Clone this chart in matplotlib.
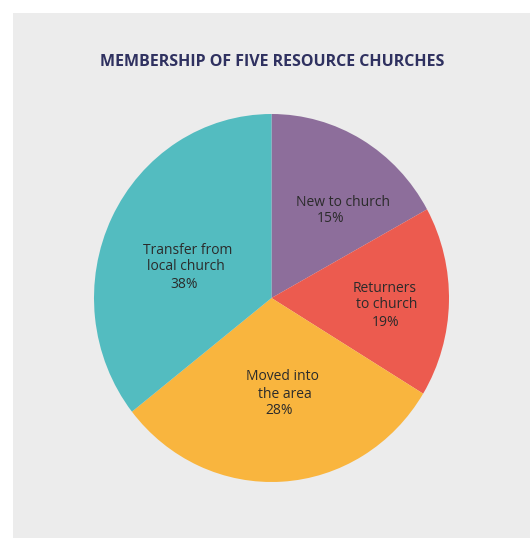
import matplotlib
matplotlib.use("Agg")
import matplotlib.pyplot as plt
from matplotlib.patches import Rectangle

W, H = 530, 538
DPI = 100

title = "MEMBERSHIP OF FIVE RESOURCE CHURCHES"
categories = ["New to church", "Returners to church", "Moved into the area", "Transfer from local church"]
# wedge sizes as drawn in the picture
shares = [17.0, 16.7, 30.7, 35.6]
pct_labels = ["15%", "19%", "28%", "38%"]
label_lines = [["New to church", "15%"],
               ["Returners", "to church", "19%"],
               ["Moved into", "the area", "28%"],
               ["Transfer from", "local church", "38%"]]
colors = ["#8d6e9b", "#ec5b4f", "#f9b53e", "#53bcc0"]

# pixel positions (x center, y top-of-image coords) for each text line
line_pos = [[(343, 202), (331, 219)],
            [(385, 288), (387, 305), (386, 322)],
            [(282, 377), (285, 394), (279, 411)],
            [(188, 250), (186, 267), (184, 284)]]

fig = plt.figure(figsize=(W / DPI, H / DPI), dpi=DPI)
fig.patch.set_facecolor("white")
fig.patches.append(Rectangle((13 / W, 0), 1 - 13 / W, 1 - 13 / H, transform=fig.transFigure,
                             facecolor="#ececec", edgecolor="none", zorder=-5))

def fx(x):
    return x / W

def fy(y):
    return 1 - y / H

left, right, top, bottom = 94, 449, 114, 482
ax = fig.add_axes([fx(left), fy(bottom), (right - left) / W, (bottom - top) / H])
ax.set_zorder(2)
ax.pie(shares, colors=colors, startangle=90, counterclock=False,
       wedgeprops=dict(linewidth=0, edgecolor="none"))
ax.set_aspect("auto")
ax.set_xlim(-1, 1)
ax.set_ylim(-1, 1)
ax.axis("off")
ax.patch.set_alpha(0)

fig.text(fx(272), fy(62), title, ha="center", va="center", fontsize=11.5,
         fontweight="bold", family="Open Sans", color="#2f3160", zorder=5)

for lines, poss in zip(label_lines, line_pos):
    for txt, (x, y) in zip(lines, poss):
        fig.text(fx(x), fy(y), txt, ha="center", va="center", fontsize=10,
                 family="Open Sans", color="#2b2b2b", zorder=5)

fig.savefig("out.png", dpi=DPI, facecolor=fig.get_facecolor())
